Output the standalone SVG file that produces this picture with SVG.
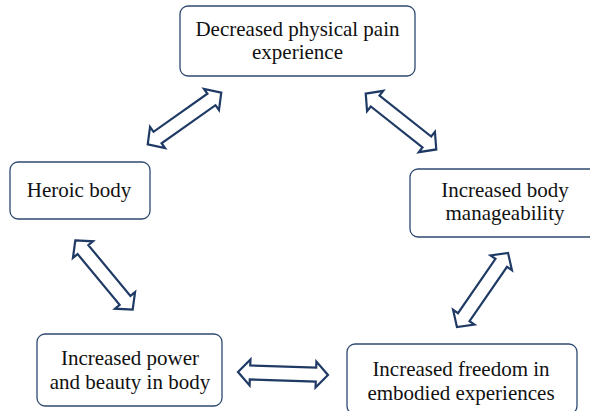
<svg xmlns="http://www.w3.org/2000/svg" width="590" height="411" viewBox="0 0 590 411">
<style>
.box{fill:#fff;stroke:#2f4a70;stroke-width:1.3}
.lbl{font-family:"Liberation Serif","Times New Roman",serif;font-size:21px;fill:#111;text-anchor:middle}
.arr{fill:#fff;stroke:#1f3a64;stroke-width:2.2;stroke-linejoin:miter}
</style>
<defs>
<path id="dbl" d="M -45 0 L -33 -13 L -33 -7 L 33 -7 L 33 -13 L 45 0 L 33 13 L 33 7 L -33 7 L -33 13 Z"/>
</defs>
<rect width="590" height="411" fill="#fff"/>
<g id="connectors">
<use href="#dbl" class="arr" transform="translate(184.5,118.5) rotate(-35.2)"/>
<use href="#dbl" class="arr" transform="translate(401,121.5) rotate(38.4)"/>
<use href="#dbl" class="arr" transform="translate(104,275) rotate(50.4)"/>
<use href="#dbl" class="arr" transform="translate(482.5,290) rotate(-55.4)"/>
<use href="#dbl" class="arr" transform="translate(283,373.5) rotate(1.9)"/>
</g>
<g id="n-pain">
<rect class="box" x="180" y="6" width="235" height="70" rx="8"/>
<text class="lbl" x="297.5" y="36">Decreased physical pain</text>
<text class="lbl" x="297.5" y="59">experience</text>
</g>
<g id="n-heroic">
<rect class="box" x="10" y="162" width="140" height="57" rx="8"/>
<text class="lbl" x="79" y="197">Heroic body</text>
</g>
<g id="n-manage">
<rect class="box" x="410" y="169" width="195" height="68" rx="8"/>
<text class="lbl" x="505" y="197">Increased body</text>
<text class="lbl" x="505" y="220">manageability</text>
</g>
<g id="n-power">
<rect class="box" x="37" y="334" width="185" height="72" rx="8"/>
<text class="lbl" x="130" y="365">Increased power</text>
<text class="lbl" x="130" y="389">and beauty in body</text>
</g>
<g id="n-freedom">
<rect class="box" x="347" y="344" width="230" height="70" rx="8"/>
<text class="lbl" x="461" y="376">Increased freedom in</text>
<text class="lbl" x="461" y="400">embodied experiences</text>
</g>
</svg>
